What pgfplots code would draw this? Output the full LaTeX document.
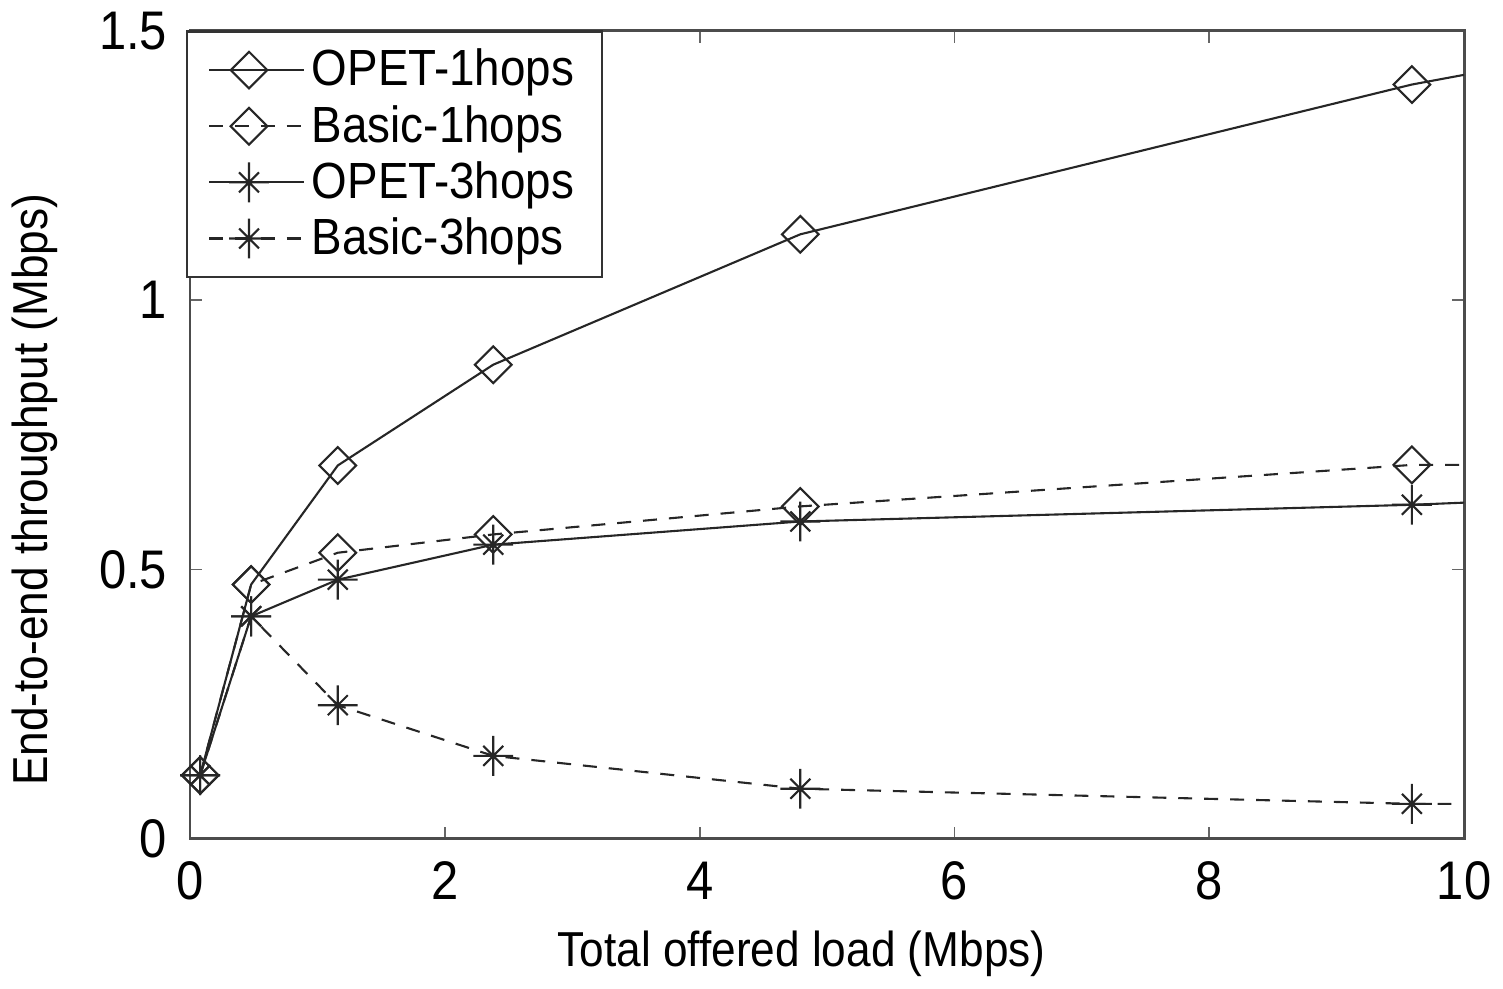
\documentclass[border=0pt]{standalone}
\usepackage{fontspec}
\setmainfont[FakeStretch=0.9]{Liberation Sans}
\usepackage{pgfplots}
\pgfplotsset{compat=1.18}

% eight-arm asterisk like the original markers
\pgfdeclareplotmark{star8}{%
  \pgfpathmoveto{\pgfqpoint{0pt}{\pgfplotmarksize}}%
  \pgfpathlineto{\pgfqpoint{0pt}{-\pgfplotmarksize}}%
  \pgfpathmoveto{\pgfqpoint{\pgfplotmarksize}{0pt}}%
  \pgfpathlineto{\pgfqpoint{-\pgfplotmarksize}{0pt}}%
  \pgfpathmoveto{\pgfqpoint{0.5\pgfplotmarksize}{0.5\pgfplotmarksize}}%
  \pgfpathlineto{\pgfqpoint{-0.5\pgfplotmarksize}{-0.5\pgfplotmarksize}}%
  \pgfpathmoveto{\pgfqpoint{-0.5\pgfplotmarksize}{0.5\pgfplotmarksize}}%
  \pgfpathlineto{\pgfqpoint{0.5\pgfplotmarksize}{-0.5\pgfplotmarksize}}%
  \pgfusepathqstroke}

\tikzset{mydash/.style={dash pattern=on 0.14cm off 0.12cm}}

\begin{document}
\begin{tikzpicture}
\begin{axis}[
  width=12.77cm, height=8.1cm, scale only axis,
  xmin=0, xmax=10, ymin=0, ymax=1.5,
  xtick={0,2,4,6,8,10}, ytick={0,0.5,1,1.5},
  tick align=inside, major tick length=0.12cm,
  axis line style={black!70, line width=0.8pt},
  tick style={black!60, line width=0.5pt},
  /pgf/number format/assume math mode=true,
  tick label style={font=\fontsize{15.5}{17}\selectfont},
  yticklabel style={xshift=-3pt},
  xticklabel style={yshift=-3pt},
  label style={font=\fontsize{14}{16}\selectfont},
  xlabel={Total offered load (Mbps)},
  ylabel={End-to-end throughput (Mbps)},
  xlabel style={at={(ticklabel cs:0.48)}, yshift=-2pt},
  ylabel style={at={(ticklabel cs:0.432)}, yshift=5pt},
  legend cell align=left,
  legend style={at={(-0.003,1)}, anchor=north west, draw=black!80, line width=0.8pt,
    font=\fontsize{14.5}{16}\selectfont, inner xsep=6pt, inner ysep=3pt,
    row sep=0pt, cells={line width=0.5pt}},
  legend image code/.code={%
    \draw[#1, mark indices={2}] plot coordinates {(0cm,0cm) (0.4cm,0cm) (0.8cm,0cm)};
    \path (0cm,0cm) -- (0.95cm,0cm);},
  every axis plot/.append style={black!85, line width=0.6pt,
    mark options={solid, line width=0.6pt}},
  diam/.style={mark=square, mark size=0.13cm, mark options={solid, rotate=45, line width=0.6pt}},
  ast/.style={mark=star8, mark size=0.2cm},
]
\addplot[diam, mark indices={1,2,3,4,5,6}] coordinates {
  (0.08,0.118) (0.48,0.472) (1.16,0.693) (2.38,0.880) (4.79,1.122) (9.59,1.400) (10,1.418)};
\addlegendentry{OPET-1hops}
\addplot[mydash, diam, mark indices={1,2,3,4,5,6}] coordinates {
  (0.08,0.118) (0.48,0.472) (1.16,0.531) (2.38,0.565) (4.79,0.617) (9.59,0.694) (10,0.694)};
\addlegendentry{Basic-1hops}
\addplot[ast, mark indices={1,2,3,4,5,6}] coordinates {
  (0.08,0.118) (0.48,0.413) (1.16,0.481) (2.38,0.546) (4.79,0.589) (9.59,0.620) (10,0.624)};
\addlegendentry{OPET-3hops}
\addplot[mydash, ast, mark indices={1,2,3,4,5,6}] coordinates {
  (0.08,0.118) (0.48,0.413) (1.16,0.248) (2.38,0.154) (4.79,0.093) (9.59,0.065) (9.9,0.065)};
\addlegendentry{Basic-3hops}
\end{axis}
\end{tikzpicture}
\end{document}
